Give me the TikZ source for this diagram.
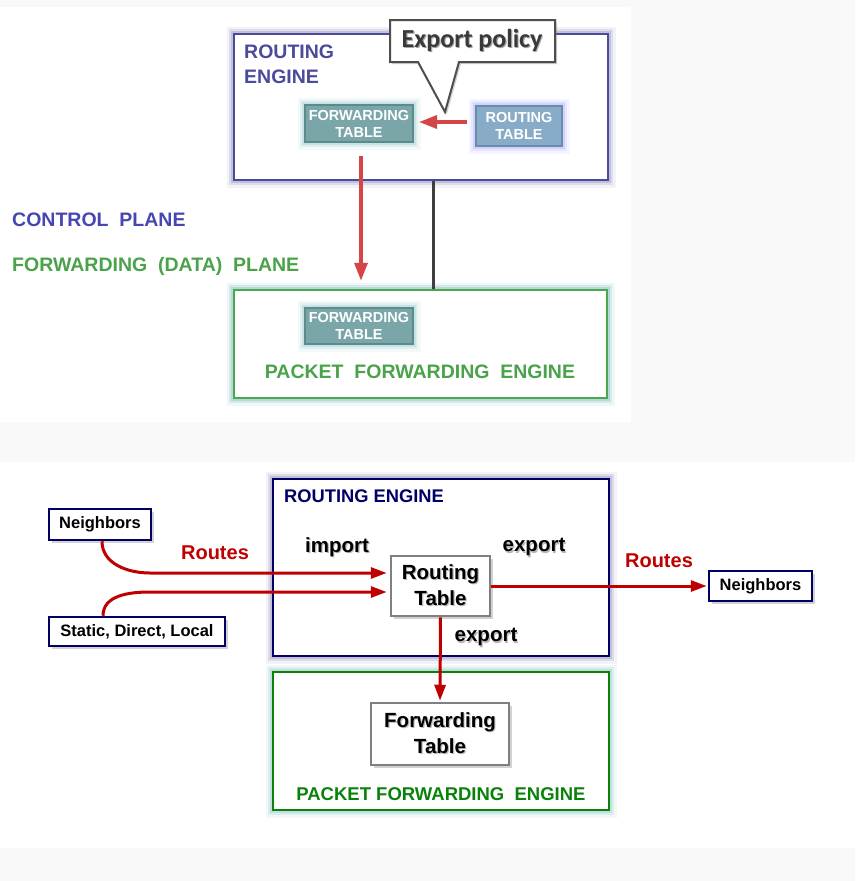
\documentclass[tikz,border=0pt]{standalone}
\usepackage{fontspec}
\setmainfont{Liberation Sans}
\newfontfamily\carlito{Carlito}
\usetikzlibrary{shadows,arrows.meta}
\definecolor{pagegray}{HTML}{F9F9F9}
\definecolor{topblue}{HTML}{4B4B9B}
\definecolor{topgreen}{HTML}{4CA64C}
\definecolor{ftfill}{HTML}{7BA6A9}
\definecolor{ftedge}{HTML}{5C8B8E}
\definecolor{rtfill}{HTML}{88ACC8}
\definecolor{rtedge}{HTML}{6A8CA8}
\definecolor{topred}{HTML}{D44646}
\definecolor{linegray}{HTML}{3F3F3F}
\definecolor{ctrltext}{HTML}{4646B2}
\definecolor{fwdtext}{HTML}{4AA24A}
\definecolor{navy}{HTML}{000066}
\definecolor{bgreen}{HTML}{0A820A}
\definecolor{bred}{HTML}{C00000}
\definecolor{boxgray}{HTML}{808080}
\definecolor{calltext}{HTML}{3A3A3A}
\newcommand\shtext[2][gray!55]{\rlap{\raisebox{-1.2pt}{\kern1.2pt\textcolor{#1}{#2}}}#2}
\tikzset{
  glow/.style={preaction={draw=#1,line width=15pt,opacity=.10},
               preaction={draw=#1,line width=10pt,opacity=.18},
               preaction={draw=#1,line width=6pt,opacity=.3}},
  bigbox/.style={draw, fill=white, line width=2.5pt, inner sep=0},
  tabbox/.style={draw, line width=2pt, text=white, align=center, inner sep=0,
                 font=\bfseries\fontsize{14.5}{17}\selectfont},
  nbbox/.style={draw=navy, fill=white, line width=2.5pt, inner sep=0,
                font=\bfseries\fontsize{16.5}{19}\selectfont,
                drop shadow={shadow xshift=2.5pt,shadow yshift=-2.5pt,opacity=.35,fill=gray}},
  tblbox/.style={draw=boxgray, fill=white, line width=2.5pt, inner sep=0, align=center,
                 font=\bfseries\fontsize{20.5}{26}\selectfont,
                 drop shadow={shadow xshift=2.5pt,shadow yshift=-2.5pt,opacity=.35,fill=gray}},
  lbl/.style={inner sep=0, font=\bfseries\fontsize{20}{24}\selectfont},
  toparrow/.style={draw=topred, line width=3.5pt, -{Triangle[length=18pt,width=13pt]}},
  redarrow/.style={draw=bred, line width=3pt, -{Triangle[length=16pt,width=11pt]}},
}
\begin{document}
\begin{tikzpicture}[x=1pt,y=-1pt]
\useasboundingbox (0,0) rectangle (855,881);
\fill[pagegray] (0,0) rectangle (855,881);
\fill[white] (0,7) rectangle (631,422);
\fill[white] (0,462) rectangle (855,848);

% ---------- top diagram ----------
\node[bigbox, draw=topblue, glow=topblue!70, minimum width=374pt, minimum height=146pt] (re) at (421,107) {};
\node[bigbox, draw=topgreen, glow=teal!60, minimum width=373pt, minimum height=108pt] (pfe) at (420.5,344) {};

\node[anchor=north west, inner sep=0, align=left, text=topblue,
      font=\bfseries\fontsize{19.5}{25}\selectfont] (relabel) at (244,45) {ROUTING\\ENGINE};

\node[tabbox, draw=ftedge, fill=ftfill, glow=teal!45, minimum width=108pt, minimum height=37pt] (ft) at (359,123.5) {FORWARDING\\TABLE};
\node[tabbox, draw=rtedge, fill=rtfill, glow=blue!35, minimum width=86pt, minimum height=40pt] (rt) at (519,126) {ROUTING\\TABLE};
\node[tabbox, draw=ftedge, fill=ftfill, glow=teal!45, minimum width=108pt, minimum height=36pt] (ft2) at (359,326) {FORWARDING\\TABLE};

\draw[toparrow, shorten <=8pt, shorten >=5pt] ([yshift=4pt]rt.west) -- ([yshift=1.5pt]ft.east);
\draw[toparrow, shorten <=13pt, shorten >=8pt] ([xshift=2pt]ft.south) -- ([xshift=2pt]ft.south |- pfe.north);
\draw[linegray, line width=3pt] ([xshift=12pt]re.south) -- ([xshift=12pt]re.south |- pfe.north);

% callout
\draw[calltext!90, line width=2pt, fill=white,
      drop shadow={shadow xshift=2pt,shadow yshift=-2pt,opacity=.35,fill=gray}]
  (390,20) -- (555,20) -- (555,62) -- (459,62) -- (445,112) -- (418,62) -- (390,62) -- cycle;
\node[inner sep=0, text=calltext, font=\carlito\bfseries\fontsize{26}{30}\selectfont] (callout) at (472,41) {\shtext[gray!70]{Export policy}};

\node[anchor=west, inner sep=0, text=ctrltext, font=\bfseries\fontsize{19.5}{24}\selectfont] (cp) at (12,220) {CONTROL\ \ PLANE};
\node[anchor=west, inner sep=0, text=fwdtext, font=\bfseries\fontsize{19.5}{24}\selectfont] (fp) at (12,266) {FORWARDING\ \ (DATA)\ \ PLANE};
\node[inner sep=0, text=fwdtext, font=\bfseries\fontsize{19.5}{24}\selectfont] (pfelabel) at (420,372) {PACKET\ \ FORWARDING\ \ ENGINE};

% ---------- bottom diagram ----------
\node[bigbox, draw=navy, glow=navy!50, minimum width=336pt, minimum height=177pt] (bre) at (441,567.5) {};
\node[bigbox, draw=bgreen, glow=teal!50, minimum width=336pt, minimum height=138pt] (bpfe) at (441,741) {};

\node[anchor=west, inner sep=0, text=navy, font=\bfseries\fontsize{18.3}{22}\selectfont] (brelabel) at (284,496) {ROUTING ENGINE};
\node[inner sep=0, text=bgreen, font=\bfseries\fontsize{18.5}{22}\selectfont] (bpfelabel) at (441,794) {PACKET FORWARDING\ \ ENGINE};

\node[tblbox, minimum width=99pt, minimum height=60pt] (brt) at (440.5,586) {\shtext{Routing}\\\shtext{Table}};
\node[tblbox, minimum width=138pt, minimum height=62pt] (bft) at (440,734) {\shtext{Forwarding}\\\shtext{Table}};

\node[nbbox, minimum width=102pt, minimum height=31pt] (nl) at (100,524.5) {Neighbors};
\node[nbbox, minimum width=176pt, minimum height=29pt] (sdl) at (137,631.5) {Static, Direct, Local};
\node[nbbox, minimum width=103pt, minimum height=30pt] (nr) at (760.5,586) {Neighbors};

\draw[redarrow, shorten >=3pt] ([xshift=2pt]nl.south) to[out=-90,in=180] (150,573) -- ([yshift=13pt]brt.west);
\draw[redarrow, shorten >=3pt] ([xshift=-34pt]sdl.north) to[out=90,in=180] (150,592) -- ([yshift=-6pt]brt.west);
\draw[redarrow, shorten >=1pt] (brt.east) -- (nr.west);
\draw[redarrow, shorten >=1pt] (brt.south) -- (bft.north);

\node[lbl, text=bred] (routesl) at (215,553) {Routes};
\node[lbl, text=bred] (routesr) at (659,561) {Routes};
\node[lbl, font=\bfseries\fontsize{20.5}{24}\selectfont] (import) at (337,548) {\shtext{import}};
\node[lbl, font=\bfseries\fontsize{20.5}{24}\selectfont] (export1) at (534,548) {\shtext{export}};
\node[lbl, font=\bfseries\fontsize{20.5}{24}\selectfont] (export2) at (486,638) {\shtext{export}};
\end{tikzpicture}
\end{document}
